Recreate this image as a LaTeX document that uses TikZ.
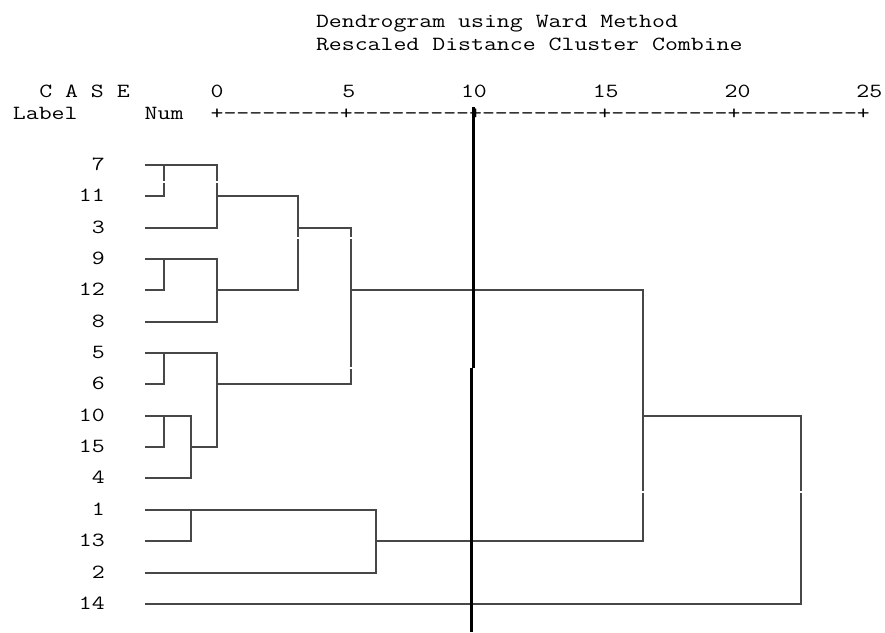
\documentclass[tikz,border=0pt]{standalone}
\usepackage{fontspec}
\usepackage{graphicx}
\definecolor{linegray}{HTML}{474747}
\newcommand{\hy}{\symbol{45}}
\newcommand{\ninedash}{\hy\hy\hy\hy\hy\hy\hy\hy\hy}
\newcommand{\sq}[1]{\scalebox{1}[0.8]{#1}}
\tikzset{
  txt/.style={font=\ttfamily\fontsize{25.1}{30}\selectfont, inner sep=0pt, text=black},
  lbl/.style={txt, anchor=east},
  hdr/.style={txt, anchor=base west},
  link/.style={draw=linegray, line width=2pt},
  cut/.style={draw=black, line width=3pt},
  gapmark/.style={fill=white, draw=none}
}
\begin{document}
\begin{tikzpicture}[x=1pt,y=-1pt]
\useasboundingbox[fill=white] (0,0) rectangle (885,632);
% header
\node[hdr] (title1) at (315.8,27) {\sq{Dendrogram using Ward Method}};
\node[hdr] (title2) at (315.8,50) {\sq{Rescaled Distance Cluster Combine}};
\node[hdr] (case) at (39.06,97) {\sq{C A S E}};
\node[hdr] (label) at (12.7,119.5) {\sq{Label}};
\node[hdr] (num) at (144.5,119.5) {\sq{Num}};
\node[hdr] (t0) at (210.4,97) {\sq{0}};
\node[hdr] (t5) at (342.2,97) {\sq{5}};
\node[hdr] (t10) at (460.8,97) {\sq{10}};
\node[hdr] (t15) at (592.6,97) {\sq{15}};
\node[hdr] (t20) at (724.4,97) {\sq{20}};
\node[hdr] (t25) at (856.2,97) {\sq{25}};
\node[hdr] (axis) at (210.4,119.5) {\sq{+\ninedash+\ninedash+\ninedash+\ninedash+\ninedash+}};
% case labels
\node[lbl] (n7)  at (105,164.5) {\sq{7}};
\node[lbl] (n11) at (105,195.5) {\sq{11}};
\node[lbl] (n3)  at (105,227.5) {\sq{3}};
\node[lbl] (n9)  at (105,258.5) {\sq{9}};
\node[lbl] (n12) at (105,289.5) {\sq{12}};
\node[lbl] (n8)  at (105,321.5) {\sq{8}};
\node[lbl] (n5)  at (105,352.5) {\sq{5}};
\node[lbl] (n6)  at (105,383.5) {\sq{6}};
\node[lbl] (n10) at (105,415.5) {\sq{10}};
\node[lbl] (n15) at (105,446.5) {\sq{15}};
\node[lbl] (n4)  at (105,477.5) {\sq{4}};
\node[lbl] (n1)  at (105,509.5) {\sq{1}};
\node[lbl] (n13) at (105,540.5) {\sq{13}};
\node[lbl] (n2)  at (105,572.5) {\sq{2}};
\node[lbl] (n14) at (105,603.5) {\sq{14}};
% leaf line starts
\coordinate (l7)  at (145,165);
\coordinate (l11) at (145,196);
\coordinate (l3)  at (145,228);
\coordinate (l9)  at (145,259);
\coordinate (l12) at (145,290);
\coordinate (l8)  at (145,322);
\coordinate (l5)  at (145,353);
\coordinate (l6)  at (145,384);
\coordinate (l10) at (145,416);
\coordinate (l15) at (145,447);
\coordinate (l4)  at (145,478);
\coordinate (l1)  at (145,510);
\coordinate (l13) at (145,541);
\coordinate (l2)  at (145,573);
\coordinate (l14) at (145,604);
% merge levels
\coordinate (xa) at (164,0);
\coordinate (xb) at (191,0);
\coordinate (xc) at (217,0);
\coordinate (xd) at (298,0);
\coordinate (xe) at (351,0);
\coordinate (xf) at (376,0);
\coordinate (xg) at (643,0);
\coordinate (xh) at (801,0);
% tree
\draw[link] (l11) -- (l11 -| xa) -- (l7 -| xa);
\draw[link] (l7) -- (l7 -| xc) -- (l3 -| xc) -- (l3);
\draw[link] (l11 -| xc) -- (l11 -| xd) -- (l12 -| xd) -- (l12 -| xc);
\draw[link] (l12) -- (l12 -| xa) -- (l9 -| xa);
\draw[link] (l9) -- (l9 -| xc) -- (l8 -| xc) -- (l8);
\draw[link] (l3 -| xd) -- (l3 -| xe) -- (l6 -| xe) -- (l6 -| xc);
\draw[link] (l6) -- (l6 -| xa) -- (l5 -| xa);
\draw[link] (l5) -- (l5 -| xc) -- (l15 -| xc) -- (l15 -| xb);
\draw[link] (l15) -- (l15 -| xa) -- (l10 -| xa);
\draw[link] (l10) -- (l10 -| xb) -- (l4 -| xb) -- (l4);
\draw[link] (l12 -| xe) -- (l12 -| xg) -- (l13 -| xg) -- (l13 -| xf);
\draw[link] (l13) -- (l13 -| xb) -- (l1 -| xb);
\draw[link] (l1) -- (l1 -| xf) -- (l2 -| xf) -- (l2);
\draw[link] (l10 -| xg) -- (l10 -| xh) -- (l14 -| xh) -- (l14);
% tiny gaps in the vertical strokes
\fill[gapmark] (162,181) rectangle (166,183);
\fill[gapmark] (215,181) rectangle (219,183);
\fill[gapmark] (296,237) rectangle (300,239);
\fill[gapmark] (349,237) rectangle (353,239);
\fill[gapmark] (349,367) rectangle (353,369);
\fill[gapmark] (641,491) rectangle (645,493);
\fill[gapmark] (799,491) rectangle (803,493);
% cut line
\coordinate (cuttop) at (473,107);
\coordinate (cutmidA) at (473,368);
\coordinate (cutmidB) at (471,368);
\coordinate (cutbot) at (471,632);
\draw[cut] (cuttop) -- (cutmidA);
\draw[cut] (cutmidB) -- (cutbot);
\end{tikzpicture}
\end{document}
